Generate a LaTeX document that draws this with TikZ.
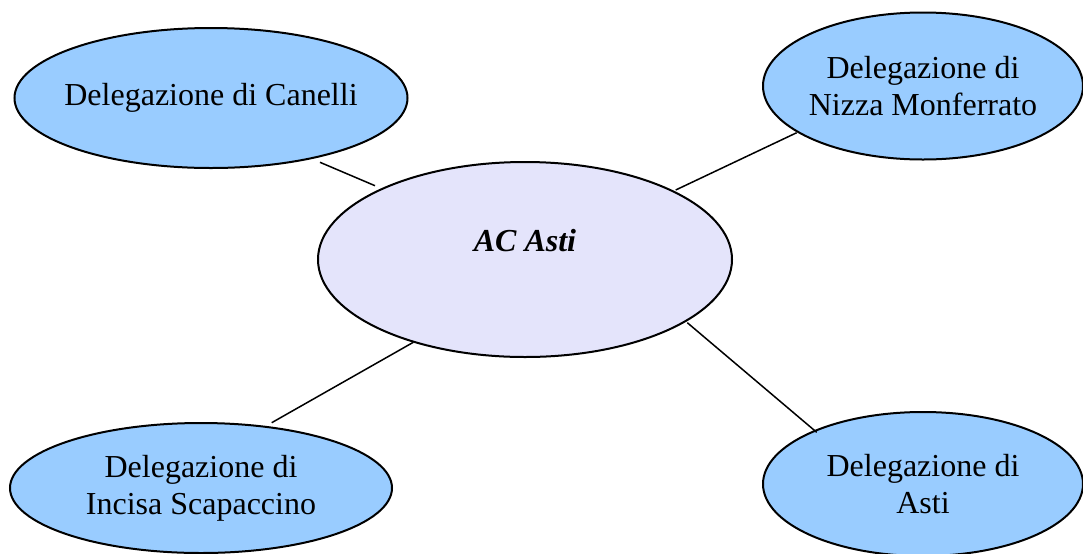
\documentclass[tikz,border=0pt]{standalone}
\usepackage{fontspec}
\setmainfont{Liberation Serif}
\usetikzlibrary{shapes.geometric}
\definecolor{delblue}{RGB}{153,204,255}
\definecolor{aclav}{RGB}{228,228,251}
\tikzset{
  delnode/.style={ellipse, draw=black, line width=1pt, fill=delblue, inner sep=0pt, outer sep=0pt},
  acnode/.style={ellipse, draw=black, line width=1pt, fill=aclav, inner sep=0pt, outer sep=0pt},
  deltext/.style={align=center, inner sep=0pt, font=\fontsize{16}{18.5}\selectfont},
  link/.style={draw=black, line width=0.75pt}
}
\begin{document}
\begin{tikzpicture}[x=0.5pt, y=-0.5pt]
\useasboundingbox (0,0) rectangle (1083,553);
\fill[white] (0,0) rectangle (1083,553);

\node[delnode, minimum width=196.5pt, minimum height=70pt] (can) at (211,98) {};
\node[deltext] (cantxt) at (can.center) {Delegazione di Canelli};
\node[delnode, minimum width=160pt, minimum height=73.5pt] (niz) at (923,86) {};
\node[deltext] (niztxt) at (niz.center) {Delegazione di\\Nizza Monferrato};
\node[acnode, minimum width=207pt, minimum height=97.5pt] (ac) at (525,259.5) {};
\node[anchor=base, font=\fontsize{16}{18.5}\selectfont\bfseries\itshape] (actxt) at (525,251) {AC Asti};
\node[delnode, minimum width=191pt, minimum height=65pt] (inc) at (201,488) {};
\node[deltext] (inctxt) at (inc.center) {Delegazione di\\Incisa Scapaccino};
\node[delnode, minimum width=160pt, minimum height=72pt] (ast) at (923,484) {};
\node[deltext] (asttxt) at (ast.center) {Delegazione di\\Asti};

\coordinate (canE) at (320,162.3);
\coordinate (acNW) at (375,185.7);
\coordinate (acNE) at (675.7,190);
\coordinate (nizE) at (796.7,132.7);
\coordinate (acSW) at (413.3,342.3);
\coordinate (incE) at (271.7,422.7);
\coordinate (acSE) at (687.3,322.7);
\coordinate (astE) at (816.7,432.3);

\draw[link] (canE) -- (acNW);
\draw[link] (acNE) -- (nizE);
\draw[link] (acSW) -- (incE);
\draw[link] (acSE) -- (astE);
\end{tikzpicture}
\end{document}
